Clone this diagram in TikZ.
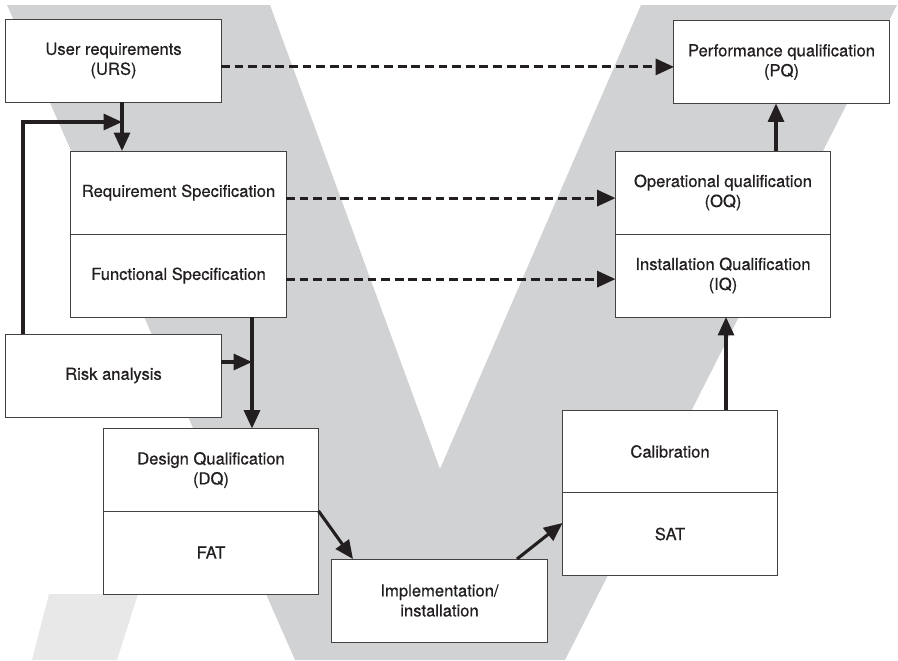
\documentclass[tikz,border=0pt]{standalone}
\usepackage{fontspec}
\setmainfont{TeX Gyre Heros}
\newfontfamily\stagefont{TeX Gyre Heros}[FakeBold=0.5]
\usetikzlibrary{arrows.meta,calc,positioning}
\definecolor{vgrey}{HTML}{D1D2D4}
\definecolor{vlight}{HTML}{E8E8E9}
\definecolor{ink}{HTML}{231F20}
\tikzset{
  stage/.style={draw=ink!85, line width=0.7pt, fill=white, minimum width=5.375cm,
    minimum height=2.075cm, inner sep=0pt, outer sep=0pt, align=center, text=ink,
    font=\stagefont\fontsize{11.8}{14.2}\selectfont},
  flow/.style={draw=ink, line width=2.2pt, -{Triangle[length=0.46cm,width=0.4cm]}},
  link/.style={flow, dash pattern=on 0.22cm off 0.12cm},
}

\begin{document}
\begin{tikzpicture}[x=0.025cm,y=-0.025cm]
	\useasboundingbox (0,0) rectangle (898,660);
	% the V behind
	\fill[vgrey] (7,5) -- (270,5) -- (440,469) -- (641,5) -- (897,5) -- (565,660) -- (295,660) -- cycle;
	\fill[vlight] (49,594) -- (138,594) -- (117,660) -- (32,660) -- cycle;
	% left arm
	\node[stage] (urs) at (113.5,60.5) {User requirements\\(URS)};
	\node[stage] (req) at (178.5,192.5) {Requirement Specification};
	\node[stage] (func) at (178.5,275.5) {Functional Specification};
	\node[stage] (risk) at (113.5,375.5) {Risk analysis};
	\node[stage] (dq) at (211,470) {Design Qualification\\(DQ)};
	\node[stage] (fat) at (211,552.5) {FAT};
	% bottom
	\node[stage] (impl) at (439.5,600.5) {Implementation/\\installation};
	% right arm
	\node[stage] (cal) at (670,451.5) {Calibration};
	\node[stage] (sat) at (670,534) {SAT};
	\node[stage] (oq) at (723,192.5) {Operational qualification\\(OQ)};
	\node[stage] (iq) at (723,275.5) {Installation Qualification\\(IQ)};
	\node[stage] (pq) at (781.5,62) {Performance qualification\\(PQ)};
	% solid flow
	\coordinate (join) at (122,122);
	\coordinate (merge) at (252,362);
	\draw[flow] (urs.south -| join) to (req.north -| join);
	\draw[flow] ($(risk.north west)+(17,0)$) |- (join);
	\draw[flow] (func.south -| merge) to (dq.north -| merge);
	\draw[flow] (risk.east |- merge) to (merge);
	\draw[flow] (fat.north east) to ($(impl.north west)+(21,0)$);
	\draw[flow] ($(impl.north east)+(-30,0)$) to ($(sat.west)+(0,-11)$);
	\draw[flow] ($(cal.north)+(56,0)$) to ($(iq.south)+(3,0)$);
	\draw[flow] ($(oq.north)+(53,0)$) to ($(pq.south)+(-5.5,0)$);
	% dashed links across
	\path ([yshift=-0.16cm]urs.east) coordinate (d1)
		([yshift=-0.14cm]req.east) coordinate (d2)
		([yshift=-0.09cm]func.east) coordinate (d3);
	\draw[link] (d1) to (d1 -| pq.west);
	\draw[link] (d2) to (d2 -| oq.west);
	\draw[link] (d3) to (d3 -| iq.west);
\end{tikzpicture}
\end{document}
